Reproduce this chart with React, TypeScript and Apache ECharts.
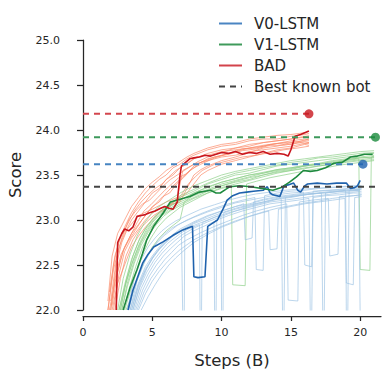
import React, { useEffect, useRef } from "react";
import * as echarts from "echarts";

// ---------- DATA ----------
const xTicks = [0, 5, 10, 15, 20];
const yTicks = [22.0, 22.5, 23.0, 23.5, 24.0, 24.5, 25.0];

// main (mean) curves: [steps(B), score]
const v0Main: number[][] = [
  [3.25, 22.0], [3.6, 22.22], [4.3, 22.52], [4.7, 22.62], [5.1, 22.7], [5.8, 22.76], [6.5, 22.83], [7.2, 22.89],
  [7.9, 22.93], [8.0, 22.37], [8.3, 22.36], [8.8, 22.37], [9.0, 22.93], [9.3, 22.96], [9.7, 23.0], [10.1, 23.12],
  [10.4, 23.22], [10.8, 23.27], [11.3, 23.3], [11.8, 23.31], [12.3, 23.32], [13.0, 23.33], [13.3, 23.37],
  [13.5, 23.3], [13.7, 23.28], [14.0, 23.27], [14.2, 23.26], [14.5, 23.38], [14.8, 23.39], [15.2, 23.41],
  [15.5, 23.33], [15.7, 23.31], [16.0, 23.38], [16.2, 23.4], [16.9, 23.41], [17.6, 23.4], [18.3, 23.41],
  [19.0, 23.41], [19.3, 23.35], [19.6, 23.36], [19.8, 23.38], [20.0, 23.44],
];
const v1Main: number[][] = [
  [2.9, 22.0], [3.4, 22.25], [3.9, 22.45], [4.3, 22.63], [4.6, 22.78], [5.1, 22.93], [5.8, 23.08], [6.3, 23.2],
  [7.0, 23.23], [7.7, 23.26], [8.4, 23.31], [8.8, 23.32], [9.2, 23.33], [9.6, 23.3], [9.9, 23.3], [10.3, 23.34],
  [10.6, 23.37], [11.3, 23.38], [12.1, 23.37], [12.9, 23.35], [13.7, 23.33], [14.3, 23.36], [14.9, 23.42],
  [15.4, 23.48], [15.9, 23.55], [16.4, 23.54], [16.9, 23.55], [17.5, 23.58], [18.1, 23.63], [18.7, 23.64],
  [19.3, 23.7], [19.8, 23.71], [20.3, 23.73], [20.9, 23.73],
];
const badMain: number[][] = [
  [2.4, 22.0], [2.5, 22.75], [2.8, 22.85], [3.0, 22.9], [3.3, 22.88], [3.6, 22.92], [3.9, 23.04], [4.2, 23.05],
  [4.5, 23.06], [4.8, 23.08], [5.2, 23.1], [5.6, 23.13], [5.9, 23.15], [6.2, 23.13], [6.5, 23.12], [6.8, 23.2],
  [7.0, 23.5], [7.1, 23.6], [7.4, 23.64], [7.7, 23.68], [8.0, 23.69], [8.4, 23.7], [8.8, 23.72], [9.2, 23.71],
  [9.6, 23.73], [10.0, 23.75], [10.5, 23.74], [11.0, 23.76], [11.5, 23.73], [12.0, 23.75], [12.5, 23.74],
  [13.0, 23.76], [13.5, 23.73], [14.0, 23.74], [14.5, 23.73], [14.8, 23.71], [15.0, 23.78], [15.3, 23.93],
  [15.7, 23.95], [16.0, 23.97], [16.3, 23.99],
];

// individual runs (faint lines)
const badRuns: number[][][] = [
  [[1.8,22.0],[2.2,22.45],[2.6,22.7],[3,22.85],[3.5,23.0],[4,23.1],[4.5,23.2],[5,23.3],[5.5,23.35],[6,23.45],[6.5,23.5],[7,23.58],[7.5,23.62],[8,23.68],[9,23.74],[10,23.78],[11,23.8],[12,23.84],[13,23.86],[14,23.88],[15,23.9],[16,23.93],[16.3,23.92]],
  [[1.9,22.0],[2.3,22.3],[2.7,22.55],[3,22.7],[3.5,22.85],[4,22.95],[4.5,23.05],[5,23.15],[5.5,23.2],[6,23.3],[6.5,23.38],[7,23.45],[7.5,23.52],[8,23.6],[9,23.68],[10,23.72],[11,23.76],[12,23.8],[13,23.83],[14,23.85],[15,23.88],[16,23.9],[16.3,23.89]],
  [[2.1,22.0],[2.5,22.3],[3,22.5],[3.5,22.7],[4,22.82],[4.5,22.92],[5,23.0],[5.5,23.08],[6,23.12],[6.5,23.2],[7,23.25],[7.5,23.3],[8,23.4],[8.5,23.5],[9,23.55],[10,23.62],[11,23.66],[12,23.7],[13,23.74],[14,23.78],[15,23.8],[16,23.84],[16.3,23.83]],
  [[1.8,22.1],[2.1,22.6],[2.5,22.85],[3,23.0],[3.5,23.15],[4,23.25],[4.5,23.35],[5,23.42],[5.5,23.48],[6,23.55],[6.5,23.6],[7,23.65],[7.5,23.7],[8,23.74],[9,23.8],[10,23.84],[11,23.86],[12,23.9],[13,23.92],[14,23.94],[15,23.95],[16,23.97],[16.3,23.96]],
  [[2.0,22.0],[2.4,22.5],[2.8,22.75],[3.2,22.9],[4,23.05],[5,23.12],[6,23.2],[6.8,23.25],[7.2,23.55],[8,23.62],[9,23.66],[10,23.7],[11,23.72],[12,23.76],[13,23.78],[14,23.8],[15,23.82],[16,23.85],[16.3,23.86]],
  [[2.2,22.0],[2.6,22.4],[3,22.65],[3.5,22.8],[4,22.9],[4.5,23.0],[5,23.08],[5.5,23.12],[6,23.15],[6.5,23.18],[7,23.2],[7.5,23.35],[8,23.5],[8.5,23.56],[9,23.6],[10,23.66],[11,23.7],[12,23.75],[13,23.8],[14,23.82],[15,23.86],[16,23.88],[16.3,23.88]],
  [[1.9,22.2],[2.3,22.6],[2.7,22.8],[3.2,22.95],[3.7,23.1],[4.2,23.2],[4.7,23.28],[5.2,23.35],[5.7,23.4],[6.2,23.48],[6.7,23.55],[7.2,23.6],[7.7,23.65],[8.2,23.7],[9,23.72],[10,23.76],[11,23.78],[12,23.8],[13,23.82],[14,23.85],[15,23.84],[16,23.87],[16.3,23.86]],
  [[2.0,22.1],[2.4,22.55],[2.8,22.8],[3.3,23.0],[3.8,23.1],[4.3,23.18],[4.8,23.22],[5.3,23.3],[5.8,23.38],[6.3,23.45],[6.8,23.5],[7.3,23.55],[7.8,23.6],[8.3,23.65],[9,23.7],[10,23.75],[11,23.8],[12,23.82],[13,23.86],[14,23.88],[15,23.9],[16,23.92],[16.3,23.91]],
  [[2.3,22.0],[2.7,22.35],[3.1,22.6],[3.6,22.78],[4.1,22.9],[4.6,22.98],[5.1,23.05],[5.6,23.1],[6.1,23.14],[6.6,23.2],[7.1,23.28],[7.6,23.4],[8.1,23.48],[8.6,23.55],[9.5,23.62],[10.5,23.66],[11.5,23.7],[12.5,23.72],[13.5,23.75],[14.5,23.78],[15.5,23.8],[16.3,23.82]],
  [[1.8,22.0],[2.2,22.5],[2.6,22.78],[3,22.92],[3.5,23.08],[4,23.2],[4.5,23.3],[5,23.38],[5.5,23.45],[6,23.5],[6.5,23.58],[7,23.62],[7.5,23.68],[8,23.72],[9,23.78],[10,23.82],[11,23.84],[12,23.88],[13,23.9],[14,23.9],[15,23.93],[16,23.95],[16.3,23.94]],
  [[2.1,22.05],[2.5,22.42],[2.9,22.66],[3.4,22.82],[3.9,22.97],[4.4,23.1],[4.9,23.17],[5.4,23.25],[5.9,23.33],[6.4,23.4],[6.9,23.47],[7.4,23.51],[7.9,23.57],[8.5,23.62],[9.5,23.69],[10.5,23.74],[11.5,23.79],[12.5,23.8],[13.5,23.84],[14.5,23.86],[15.5,23.87],[16.3,23.9]],
  [[2.0,22.0],[2.35,22.38],[2.75,22.62],[3.25,22.76],[3.75,22.88],[4.25,23.0],[4.75,23.1],[5.25,23.18],[5.75,23.26],[6.25,23.3],[6.75,23.4],[7.25,23.47],[7.75,23.55],[8.5,23.64],[9.5,23.7],[10.5,23.73],[11.5,23.77],[12.5,23.79],[13.5,23.83],[14.5,23.83],[15.5,23.86],[16.3,23.85]],
];
const v1Runs: number[][][] = [
  [[2.6,22.0],[3,22.25],[3.5,22.5],[4,22.7],[4.5,22.85],[5,22.97],[5.5,23.05],[6,23.12],[7,23.22],[8,23.3],[9,23.36],[10,23.42],[11,23.46],[12,23.5],[13,23.53],[14,23.56],[15,23.58],[16,23.61],[17,23.63],[18,23.66],[19,23.68],[20,23.7],[21,23.72]],
  [[2.8,22.0],[3.2,22.3],[3.7,22.55],[4.2,22.75],[4.7,22.88],[5.2,22.98],[5.7,23.05],[6.2,23.1],[7,23.18],[8,23.25],[9,23.32],[10,23.38],[11,23.42],[12,23.45],[13,23.5],[14,23.53],[15,23.55],[16,23.58],[17,23.6],[18,23.62],[19,23.65],[20,23.67],[21,23.69]],
  [[2.5,22.0],[2.9,22.35],[3.4,22.62],[3.9,22.82],[4.4,22.96],[4.9,23.06],[5.4,23.14],[6,23.2],[7,23.3],[8,23.38],[9,23.44],[10,23.5],[11,23.54],[12,23.57],[13,23.6],[14,23.63],[15,23.66],[16,23.68],[17,23.7],[18,23.72],[19,23.74],[20,23.76],[21,23.77]],
  [[3,22.0],[3.4,22.2],[3.9,22.45],[4.4,22.65],[4.9,22.8],[5.4,22.92],[6,23.02],[7,23.14],[8,23.22],[9,23.3],[10,23.35],[10.7,23.38],[10.8,22.28],[11.7,22.27],[11.8,23.4],[12.5,23.43],[13.5,23.47],[14.5,23.5],[15.5,23.53],[16.5,23.56],[17.5,23.58],[18.5,23.61],[19.5,23.63],[20.5,23.65],[21,23.66]],
  [[2.7,22.0],[3.1,22.3],[3.6,22.55],[4.1,22.75],[4.6,22.9],[5.1,23.0],[5.6,23.08],[6.1,23.14],[7,23.22],[8,23.3],[9,23.37],[10,23.42],[11,23.46],[12,23.5],[13,23.52],[14,23.56],[15,23.58],[16,23.6],[17,23.62],[18,23.64],[19,23.66],[19.9,23.68],[20,22.45],[20.7,22.44],[20.8,23.7],[21,23.71]],
  [[2.9,22.0],[3.3,22.22],[3.8,22.48],[4.3,22.7],[4.8,22.85],[5.3,22.95],[5.8,23.04],[6.3,23.1],[7,23.16],[8,23.24],[9,23.3],[10,23.36],[11,23.4],[12,23.44],[13,23.48],[14,23.52],[15,23.55],[16,23.57],[17,23.6],[18,23.62],[19,23.64],[20,23.66],[21,23.67]],
  [[3.1,22.0],[3.5,22.15],[4,22.38],[4.5,22.56],[5,22.7],[5.5,22.8],[6,22.88],[6.5,22.94],[7,23.0],[7.3,23.2],[8,23.28],[9,23.34],[10,23.4],[11,23.44],[12,23.48],[13,23.52],[14,23.55],[15,23.57],[16,23.6],[17,23.62],[18,23.65],[19,23.67],[20,23.69],[21,23.7]],
  [[2.6,22.0],[3,22.28],[3.5,22.56],[4,22.76],[4.5,22.9],[5,23.0],[5.5,23.08],[6,23.15],[7,23.25],[8,23.32],[9,23.4],[10,23.45],[11,23.5],[12,23.52],[13,23.56],[14,23.6],[15,23.62],[16,23.64],[17,23.66],[18,23.68],[19,23.7],[20,23.72],[21,23.74]],
  [[2.8,22.0],[3.2,22.26],[3.7,22.52],[4.2,22.72],[4.7,22.86],[5.2,22.97],[5.7,23.06],[6.2,23.12],[7,23.2],[8,23.27],[9,23.33],[10,23.38],[11,23.43],[12,23.47],[13,23.5],[14,23.54],[15,23.56],[16,23.6],[17,23.62],[18,23.63],[19,23.67],[20,23.69],[21,23.7]],
  [[2.7,22.0],[3.1,22.32],[3.6,22.6],[4.1,22.8],[4.6,22.93],[5.1,23.03],[5.6,23.1],[6.2,23.17],[7,23.27],[8,23.34],[9,23.41],[10,23.47],[11,23.52],[12,23.55],[13,23.58],[14,23.61],[15,23.64],[16,23.66],[17,23.69],[18,23.7],[19,23.72],[20,23.74],[21,23.75]],
];
const v0Runs: number[][][] = [
  [[3.4,22.0],[4,22.3],[4.5,22.48],[5,22.6],[5.5,22.7],[6,22.78],[6.5,22.84],[7,22.9],[8,22.98],[9,23.05],[10,23.1],[11,23.15],[12,23.18],[13,23.22],[14,23.25],[15,23.27],[16,23.29],[17,23.3],[18,23.32],[19,23.33],[20,23.34]],
  [[3.6,22.0],[4.1,22.25],[4.6,22.42],[5.1,22.55],[5.6,22.65],[6.1,22.74],[6.6,22.8],[7.1,22.86],[7.6,22.9],[8.4,22.95],[8.45,21.9],[8.55,21.9],[8.6,22.97],[9.5,23.03],[10.5,23.08],[11.5,23.12],[12.5,23.16],[13.5,23.2],[14.5,23.22],[15.5,23.24],[16.5,23.26],[17.5,23.28],[18.5,23.3],[19.5,23.31],[20.1,23.32]],
  [[3.8,22.0],[4.3,22.22],[4.8,22.38],[5.3,22.5],[5.8,22.6],[6.3,22.68],[6.8,22.75],[7.3,22.82],[8,22.88],[9,22.95],[9.45,22.98],[9.5,21.9],[9.6,21.9],[9.65,23.0],[10.5,23.05],[11.5,23.1],[12.5,23.14],[13.5,23.18],[14.5,23.2],[15.5,23.22],[16.3,23.24],[16.4,21.9],[16.5,21.9],[16.6,23.25],[17.5,23.27],[18.5,23.28],[19.5,23.3],[20.1,23.3]],
  [[3.3,22.0],[3.8,22.3],[4.3,22.5],[4.8,22.64],[5.3,22.74],[5.8,22.82],[6.3,22.88],[6.8,22.94],[7.5,23.0],[8.5,23.07],[9.5,23.13],[10.5,23.18],[11.5,23.22],[12.4,23.25],[12.5,22.45],[13.0,22.44],[13.1,23.27],[14,23.3],[15,23.32],[16,23.33],[17,23.35],[18,23.36],[19,23.37],[20,23.38]],
  [[3.5,22.0],[4,22.28],[4.5,22.45],[5,22.58],[5.5,22.68],[6,22.76],[6.5,22.83],[7.1,22.88],[7.2,21.9],[7.3,21.9],[7.35,22.9],[8,22.96],[9,23.02],[10,23.08],[11,23.13],[12,23.17],[13,23.2],[14,23.24],[15,23.26],[16,23.28],[17,23.3],[18,23.31],[19,23.32],[20,23.33]],
  [[3.9,22.0],[4.4,22.2],[4.9,22.35],[5.4,22.46],[5.9,22.56],[6.4,22.64],[6.9,22.72],[7.5,22.78],[8.5,22.86],[9.5,22.93],[10.5,22.99],[11.5,23.05],[12.5,23.1],[13.5,23.14],[14.7,23.18],[14.8,22.11],[15.5,22.1],[15.6,23.2],[16.5,23.22],[17.7,23.24],[17.8,22.6],[18.4,22.62],[18.5,23.26],[19.5,23.27],[20.1,23.28]],
  [[3.7,22.0],[4.2,22.24],[4.7,22.4],[5.2,22.53],[5.7,22.63],[6.2,22.71],[6.7,22.78],[7.2,22.84],[8,22.91],[9,22.98],[10,23.04],[11,23.1],[12,23.15],[13,23.19],[14,23.23],[15,23.25],[16,23.28],[17.2,23.3],[17.3,21.9],[17.4,21.9],[17.5,23.3],[18.5,23.32],[18.95,23.33],[19.0,21.9],[19.1,21.9],[19.2,23.33],[20.1,23.34]],
  [[3.5,22.0],[4,22.26],[4.5,22.44],[5,22.57],[5.5,22.67],[6,22.75],[6.5,22.82],[7,22.87],[8,22.94],[9,23.0],[9.95,23.06],[10.0,21.9],[10.1,21.9],[10.15,23.08],[11,23.12],[12,23.16],[13,23.2],[14.3,23.24],[14.4,21.9],[14.5,21.9],[14.6,23.25],[15.5,23.27],[16.5,23.29],[17.5,23.3],[18.5,23.32],[19.9,23.33],[20.0,21.9]],
  [[3.2,22.0],[3.7,22.35],[4.2,22.56],[4.7,22.7],[5.2,22.8],[5.7,22.88],[6.2,22.94],[6.7,22.99],[7.5,23.05],[8.5,23.12],[9.5,23.17],[10.5,23.22],[11.5,23.26],[12.5,23.29],[13.5,23.31],[14.5,23.33],[15.5,23.34],[16.5,23.35],[17.5,23.36],[18.5,23.37],[19.5,23.38],[20.1,23.38]],
  [[4.0,22.0],[4.5,22.18],[5,22.32],[5.5,22.43],[6,22.52],[6.5,22.6],[7,22.67],[8,22.78],[9,22.86],[10,22.93],[11,22.99],[12,23.04],[13.4,23.1],[13.5,22.67],[14.0,22.68],[14.1,23.12],[15,23.15],[16,23.18],[17,23.2],[18,23.22],[18.9,23.24],[19.0,22.3],[19.5,22.28],[19.6,23.25],[20.1,23.26]],
  [[3.6,22.0],[4.1,22.27],[4.6,22.46],[5.1,22.6],[5.6,22.7],[6.1,22.78],[6.6,22.85],[7.2,22.9],[8,22.97],[9,23.04],[10,23.1],[11,23.15],[11.6,23.18],[11.7,22.78],[12.2,22.8],[12.3,23.2],[13,23.23],[14,23.26],[15,23.28],[16,23.3],[17,23.32],[18,23.33],[19,23.34],[20.1,23.35]],
  [[4.2,22.0],[4.7,22.15],[5.2,22.28],[5.7,22.4],[6.2,22.5],[6.7,22.58],[7.2,22.65],[8,22.75],[9,22.84],[10,22.92],[11,22.98],[12,23.04],[13,23.09],[14,23.13],[15,23.16],[16,23.19],[17,23.21],[18,23.24],[19,23.26],[20.1,23.28]],
  [[3.4,22.0],[3.9,22.32],[4.4,22.52],[4.9,22.66],[5.4,22.77],[5.9,22.85],[6.4,22.91],[7,22.96],[8,23.03],[9,23.09],[10,23.14],[11,23.19],[12,23.22],[13,23.25],[14,23.28],[15,23.3],[15.9,23.31],[16.0,22.5],[16.5,22.48],[16.6,23.32],[17.5,23.33],[18.5,23.34],[19.5,23.36],[20.1,23.36]],
];

// best scores (dashed reference lines ending in a dot)
const badBest = { score: 24.18, end: 16.3 };
const v1Best = { score: 23.92, end: 21.1 };
const v0Best = { score: 23.62, end: 20.2 };
const botBest = { score: 23.37, end: 21.3 };

const FONT = "DejaVu Sans";
const INK = "#262626";

export default function App() {
  const ref = useRef<HTMLDivElement>(null);
  useEffect(() => {
    if (!ref.current) return;
    const chart = echarts.init(ref.current, undefined, { renderer: "svg" });

    const faint = (runs: number[][][], color: string, prefix: string) =>
      runs.map((d, i) => ({
        name: `${prefix}-${i}`,
        type: "line",
        data: d,
        symbol: "none",
        silent: true,
        z: 1,
        lineStyle: { color, width: 1, opacity: 0.7 },
      }));
    const main = (name: string, d: number[][], color: string) => ({
      name,
      type: "line",
      data: d,
      symbol: "none",
      silent: true,
      z: 3,
      itemStyle: { color },
      lineStyle: { color, width: 1.6 },
    });
    const dashed = (name: string, b: { score: number; end: number }, color: string) => ({
      name,
      type: "line",
      data: [
        [0, b.score],
        [b.end, b.score],
      ],
      symbol: "none",
      silent: true,
      z: 4,
      itemStyle: { color },
      lineStyle: { color, width: 2, type: [6, 5] },
    });
    const dot = (name: string, b: { score: number; end: number }, color: string) => ({
      name,
      type: "scatter",
      data: [[b.end, b.score]],
      symbolSize: 9,
      silent: true,
      z: 5,
      itemStyle: { color },
    });

    const legendItem = (name: string, color: string, dash?: number[]) => ({
      name,
      itemStyle: { opacity: 0 },
      lineStyle: { color, width: 2, type: dash || "solid", opacity: 1 },
    });

    chart.setOption({
      animation: false,
      backgroundColor: "#ffffff",
      textStyle: { fontFamily: FONT },
      grid: { left: 83, right: 6, top: 40, bottom: 66, outerBoundsMode: "none", containLabel: false },
      legend: {
        orient: "vertical",
        left: 213,
        top: 11,
        itemWidth: 23,
        itemHeight: 14,
        itemGap: 6,
        textStyle: { fontFamily: FONT, fontSize: 15, color: INK, padding: [0, 0, 0, 7] },
        data: [
          legendItem("V0-LSTM", "#4a85c2"),
          legendItem("V1-LSTM", "#3f9a5b"),
          legendItem("BAD", "#d2434b"),
          legendItem("Best known bot", "#444444", [6, 5]),
        ],
      },
      xAxis: {
        type: "value",
        min: 0,
        max: 21.5,
        interval: 5,
        offset: 6,
        name: "Steps (B)",
        nameLocation: "middle",
        nameGap: 36,
        nameTextStyle: { fontFamily: FONT, fontSize: 16.5, color: INK },
        axisLine: { show: true, lineStyle: { color: INK, width: 1.25 } },
        axisTick: { show: true, length: 5, customValues: xTicks, lineStyle: { color: INK, width: 1.25 } },
        axisLabel: { customValues: xTicks, fontFamily: FONT, fontSize: 11, color: INK, margin: 11 },
        splitLine: { show: false },
      },
      yAxis: {
        type: "value",
        min: 22,
        max: 25,
        interval: 0.5,
        offset: 3,
        name: "Score",
        nameLocation: "middle",
        nameGap: 56,
        nameTextStyle: { fontFamily: FONT, fontSize: 16.5, color: INK },
        axisLine: { show: true, lineStyle: { color: INK, width: 1.25 } },
        axisTick: { show: true, length: 6, customValues: yTicks, lineStyle: { color: INK, width: 1.25 } },
        axisLabel: {
          customValues: yTicks,
          fontFamily: FONT,
          fontSize: 11,
          color: INK,
          margin: 20,
          formatter: (v: number) => v.toFixed(1),
        },
        splitLine: { show: false },
      },
      series: [
        ...faint(badRuns, "#fb8a6a", "badrun"),
        ...faint(v1Runs, "#8fd08a", "v1run"),
        ...faint(v0Runs, "#9fc4e4", "v0run"),
        main("V0-LSTM", v0Main, "#1f62ad"),
        main("V1-LSTM", v1Main, "#1f8a3f"),
        main("BAD", badMain, "#c8161e"),
        dashed("Best known bot", botBest, "#444444"),
        dashed("BAD best", badBest, "#d3464e"),
        dashed("V1-LSTM best", v1Best, "#3d995b"),
        dashed("V0-LSTM best", v0Best, "#4684c1"),
        dot("BAD best dot", badBest, "#c8161e"),
        dot("V1 best dot", v1Best, "#1a8a3c"),
        dot("V0 best dot", v0Best, "#1f62b0"),
      ],
    });
    return () => chart.dispose();
  }, []);
  return (
    <div
      ref={ref}
      style={{ position: "fixed", left: 0, top: 0, width: 387, height: 376, background: "#fff" }}
    />
  );
}
